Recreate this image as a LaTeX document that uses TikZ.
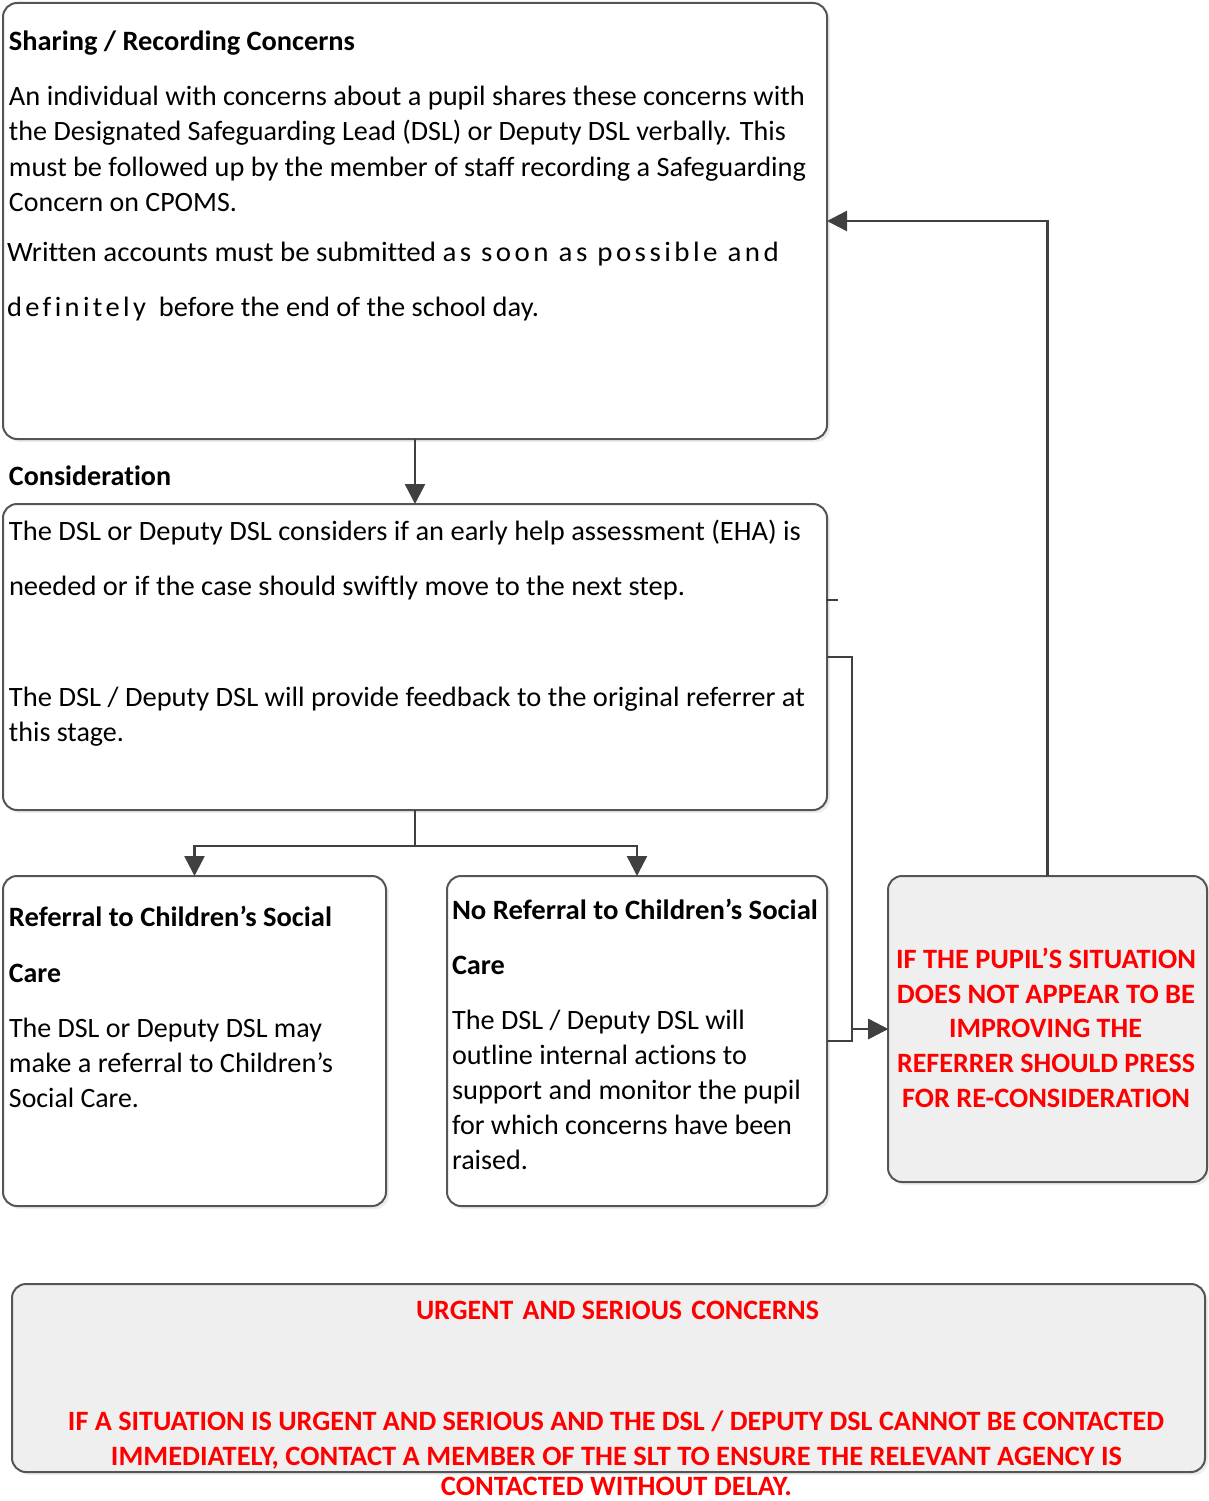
\documentclass[tikz,border=0pt]{standalone}
\usepackage{fontspec}
\usepackage{graphicx}
\setmainfont{Carlito}[Ligatures={NoCommon}]
\usetikzlibrary{arrows.meta,shadows}
\definecolor{linegrey}{HTML}{404040}
\definecolor{boxgrey}{HTML}{555555}
\definecolor{panelfill}{HTML}{EFEFEF}
\definecolor{alertred}{HTML}{FF0000}
\newcommand{\fitw}[2]{\resizebox{#1pt}{\height}{#2}}
\newcommand{\lsp}{\addfontfeature{LetterSpace=12}}
\begin{document}
\begin{tikzpicture}[x=1pt,y=-1pt,
  font=\fontsize{28}{35}\selectfont,
  box/.style={draw=boxgrey, line width=2pt, rounded corners=14pt, fill=white,
    inner sep=0pt, outer sep=0pt,
    drop shadow={fill=black!14, shadow xshift=3pt, shadow yshift=-3pt}},
  panel/.style={box, fill=panelfill},
  conn/.style={draw=linegrey, line width=2.5pt, -{Triangle[length=20pt,width=20pt]}},
  txt/.style={anchor=base west, inner sep=0pt, outer sep=0pt},
  rtxt/.style={anchor=base, inner sep=0pt, outer sep=0pt, text=alertred, font=\fontsize{28}{35}\selectfont\bfseries}]
\useasboundingbox (0,0) rectangle (1208,1501);

% boxes
\node[box, minimum width=824pt, minimum height=436pt] (box1) at (415,221) {};
\node[box, minimum width=824pt, minimum height=306pt] (box2) at (415,657) {};
\node[box, minimum width=383pt, minimum height=330pt] (box3) at (194.5,1041) {};
\node[box, minimum width=380pt, minimum height=330pt] (box4) at (637,1041) {};
\node[panel, minimum width=319pt, minimum height=306pt] (red) at (1047.5,1029) {};
\node[panel, minimum width=1193pt, minimum height=188pt] (urgent) at (608.5,1378) {};

% box 1 text
\node[txt] (t1a) at (9,51) {\fitw{346}{\bfseries Sharing / Recording Concerns}};
\node[txt] (t1b) at (9,106) {\fitw{796}{An individual with concerns about a pupil shares these concerns with}};
\node[txt] (t1c) at (9,141) {\fitw{777}{the Designated Safeguarding Lead (DSL) or Deputy DSL verbally. This}};
\node[txt] (t1d) at (9,176) {\fitw{797}{must be followed up by the member of staff recording a Safeguarding}};
\node[txt] (t1e) at (9,211) {\fitw{228}{Concern on CPOMS.}};
\node[txt] (t1f) at (7,261) {\fitw{772}{Written accounts must be submitted {\lsp as soon as possible and}}};
\node[txt] (t1g) at (7,316) {\fitw{532}{{\lsp definitely} \ before the end of the school day.}};

\node[txt] (cons) at (9,485) {\fitw{162}{\bfseries Consideration}};

% box 2 text
\node[txt] (t2a) at (9,540) {\fitw{792}{The DSL or Deputy DSL considers if an early help assessment (EHA) is}};
\node[txt] (t2b) at (9,595) {\fitw{676}{needed or if the case should swiftly move to the next step.}};
\node[txt] (t2c) at (9,706) {\fitw{796}{The DSL / Deputy DSL will provide feedback to the original referrer at}};
\node[txt] (t2d) at (9,741) {\fitw{115}{this stage.}};

% box 3 text
\node[txt] (t3a) at (9,926) {\fitw{323}{\bfseries Referral to Children’s Social}};
\node[txt] (t3b) at (9,982) {\fitw{52}{\bfseries Care}};
\node[txt] (t3c) at (9,1037) {\fitw{313}{The DSL or Deputy DSL may}};
\node[txt] (t3d) at (9,1072) {\fitw{324}{make a referral to Children’s}};
\node[txt] (t3e) at (9,1107) {\fitw{130}{Social Care.}};

% box 4 text
\node[txt] (t4a) at (452,919) {\fitw{366}{\bfseries No Referral to Children’s Social}};
\node[txt] (t4b) at (452,974) {\fitw{53}{\bfseries Care}};
\node[txt] (t4c) at (452,1029) {\fitw{293}{The DSL / Deputy DSL will}};
\node[txt] (t4d) at (452,1064) {\fitw{295}{outline internal actions to}};
\node[txt] (t4e) at (452,1099) {\fitw{349}{support and monitor the pupil}};
\node[txt] (t4f) at (452,1134) {\fitw{340}{for which concerns have been}};
\node[txt] (t4g) at (452,1169) {\fitw{76}{raised.}};

% red box text
\node[rtxt] (r1) at (1046,968) {\fitw{300}{IF THE PUPIL’S SITUATION}};
\node[rtxt] (r2) at (1046,1003) {\fitw{298}{DOES NOT APPEAR TO BE}};
\node[rtxt] (r3) at (1045.5,1037) {\fitw{193}{IMPROVING THE}};
\node[rtxt] (r4) at (1046,1072) {\fitw{298}{REFERRER SHOULD PRESS}};
\node[rtxt] (r5) at (1046,1107) {\fitw{288}{FOR RE-CONSIDERATION}};

% urgent box text
\node[rtxt] (u0) at (617.5,1319) {\fitw{403}{URGENT\hspace{3pt} AND SERIOUS\hspace{3pt} CONCERNS}};
\node[rtxt] (u1) at (616,1430) {\fitw{1096}{IF A SITUATION IS URGENT AND SERIOUS AND THE DSL / DEPUTY DSL CANNOT BE CONTACTED}};
\node[rtxt] (u2) at (616.5,1465) {\fitw{1011}{IMMEDIATELY, CONTACT A MEMBER OF THE SLT TO ENSURE THE RELEVANT AGENCY IS}};
\node[rtxt] (u3) at (616.5,1495) {\fitw{351}{CONTACTED WITHOUT DELAY.}};

% connectors
\draw[conn] (box1.south) -- (box2.north);
\draw[conn] (box2.south) -- ++(0,36) -| (box3.north);
\draw[conn] (box2.south) -- ++(0,36) -| (box4.north);
\draw[conn] (box2.east) -- ++(25,0) |- (red.west);
\draw[conn] (box4.east) -- ++(25,0) |- (red.west);
\draw[conn] (red.north) |- (box1.east);

% small stray tick
\coordinate (tickA) at (826,600);
\coordinate (tickB) at (838,600);
\draw[draw=linegrey, line width=2pt] (tickA) -- (tickB);
\end{tikzpicture}
\end{document}
